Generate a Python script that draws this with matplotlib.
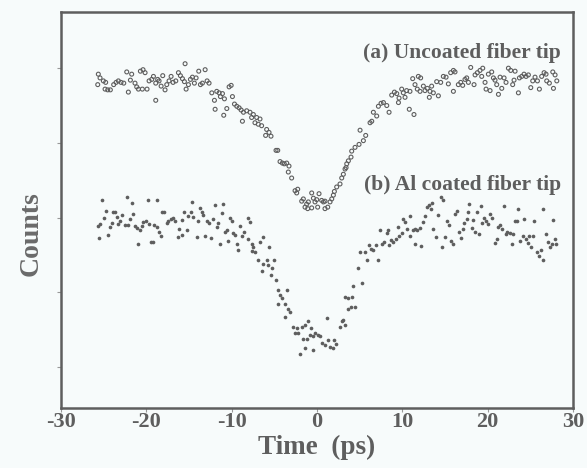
"""
Autocorrelation traces: uncoated vs Al coated fiber tip.
Values read off the scanned figure (Counts in arbitrary units).
"""
import matplotlib
matplotlib.use("Agg")
import matplotlib.pyplot as plt

# (a) uncoated fiber tip -- time (ps), counts (a.u.)
a_t = [-25.63, -25.43, -25.70, -25.04, -24.77, -24.84, -24.53, -24.22, -23.83, -23.55,
       -23.28, -22.97, -22.65, -22.30, -22.11, -21.72, -21.87, -21.33, -21.13, -20.93,
       -20.70, -20.39, -20.15, -20.47, -19.92, -19.68, -19.37, -19.17, -18.90, -18.67,
       -18.51, -18.90, -18.27, -18.08, -17.81, -17.61, -17.34, -17.10, -16.87, -16.55,
       -16.24, -16.01, -15.77, -15.54, -15.46, -15.34, -15.07, -14.83, -14.60, -14.37,
       -14.17, -13.86, -13.66, -13.43, -13.11, -12.88, -12.65, -12.33, -12.02, -11.75,
       -11.47, -11.32, -11.08, -10.85, -10.57, -10.30, -10.06, -9.91, -9.67, -11.94,
       -10.93, -9.40, -9.13, -8.89, -8.62, -8.74,
       -8.24, -7.85, -7.46, -7.07, -6.68, -7.66, -7.27, -6.88, -6.49, -5.90,
       -5.62, -6.02, -5.39, -4.80, -4.60, -4.33, -4.06, -3.83, -3.55, -3.28,
       -3.36, -2.97, -2.57, -2.26, -2.38, -1.79, -1.60, -1.21, -1.01, -0.62,
       -0.42, -0.23, -0.03, 0.24, 0.55, 0.75, 0.94, -1.40, -1.09, -0.62,
       0.08, 0.94, 1.26, 1.53, 1.73, 1.92, 2.04, 2.31, 2.70, 2.90,
       3.09, 3.29, 3.49, 3.68, 3.99, 3.41, 4.07, 4.46, 4.93, 5.05,
       5.44, 5.71, 6.22, 6.42, 6.61, 7.00, 7.20, 7.51, 7.79, 8.18,
       8.45, 8.76, 9.08, 9.35, 9.62, 9.55,
       9.93, 10.12, 10.51, 10.90, 10.32, 11.22, 11.49, 11.88, 12.15, 11.76,
       12.08, 12.47, 12.66, 12.94, 13.25, 13.44, 13.64, 13.17, 10.82, 11.37,
       14.03, 14.23, 14.50, 14.81, 15.13, 15.40, 15.67, 15.99, 16.18, 15.99,
       16.57, 16.85, 17.08, 17.35, 17.55, 17.75, 18.02, 18.41, 18.53, 18.80,
       19.11, 19.31, 19.43, 19.70, 19.82, 20.09, 20.29, 20.48, 20.68, 20.87,
       21.07, 21.27, 21.46, 21.66, 21.93, 22.16, 22.44, 22.71, 22.94, 23.10,
       23.22, 23.61, 23.73, 24.00, 24.27, 24.51, 24.78, 25.06, 25.29, 25.56,
       25.84, 26.07, 26.34, 26.62, 26.85, 26.93, 27.24, 27.64, 27.72, 27.91,
       28.11]
a_y = [4.92, 4.87, 4.78, 4.83, 4.81, 4.72, 4.71, 4.71, 4.78, 4.81,
       4.83, 4.81, 4.80, 4.95, 4.68, 4.92, 4.84, 4.80, 4.75, 4.72,
       4.96, 4.98, 4.94, 4.72, 4.72, 4.83, 4.85, 4.89, 4.80, 4.85,
       4.83, 4.57, 4.76, 4.90, 4.71, 4.78, 4.83, 4.89, 4.81, 4.83,
       4.94, 4.90, 4.86, 4.82, 5.06, 4.72, 4.78, 4.85, 4.88, 4.80,
       4.87, 4.96, 4.78, 4.80, 4.98, 4.83, 4.80, 4.67, 4.57, 4.69,
       4.67, 4.62, 4.66, 4.59, 4.46, 4.75, 4.77, 4.62, 4.52, 4.45,
       4.37, 4.49, 4.47, 4.44, 4.41, 4.29,
       4.43, 4.41, 4.38, 4.34, 4.32, 4.34, 4.27, 4.25, 4.23, 4.18,
       4.14, 4.10, 4.09, 3.90, 3.90, 3.75, 3.73, 3.72, 3.73, 3.69,
       3.61, 3.53, 3.36, 3.38, 3.33, 3.22, 3.25, 3.18, 3.21, 3.33,
       3.26, 3.21, 3.24, 3.32, 3.23, 3.21, 3.22, 3.14, 3.12, 3.13,
       3.14, 3.12, 3.14, 3.21, 3.25, 3.30, 3.35, 3.41, 3.45, 3.53,
       3.58, 3.65, 3.72, 3.76, 3.81, 3.67, 3.89, 3.94, 3.98, 4.17,
       4.03, 4.10, 4.27, 4.29, 4.41, 4.36, 4.49, 4.53, 4.54, 4.50,
       4.41, 4.64, 4.68, 4.66, 4.60, 4.54,
       4.72, 4.67, 4.70, 4.69, 4.61, 4.86, 4.78, 4.89, 4.87, 4.72,
       4.69, 4.76, 4.70, 4.73, 4.69, 4.76, 4.67, 4.61, 4.45, 4.38,
       4.82, 4.63, 4.81, 4.89, 4.88, 4.79, 4.94, 4.97, 4.95, 4.69,
       4.78, 4.81, 4.77, 4.85, 4.87, 4.81, 5.01, 4.78, 4.91, 4.94,
       4.97, 4.89, 5.00, 4.81, 4.72, 4.92, 4.70, 4.95, 4.87, 4.84,
       4.78, 4.65, 4.88, 4.73, 4.87, 4.81, 5.00, 4.97, 4.78, 4.84,
       4.96, 4.67, 4.87, 4.89, 4.92, 4.89, 4.91, 4.74, 4.83, 4.88,
       4.83, 4.72, 4.89, 4.94, 4.92, 4.83, 4.80, 4.95, 4.73, 4.91,
       4.83]

# (b) Al coated fiber tip
b_t = [-25.16, -25.70, -25.43, -25.55, -24.77, -24.92, -24.53, -24.26, -24.06, -23.87,
       -23.67, -23.48, -23.28, -23.09, -22.81, -22.50, -22.19, -22.30, -21.91, -21.72,
       -21.52, -21.33, -21.13, -20.93, -20.74, -20.54, -20.35, -20.07, -19.76, -19.68,
       -19.45, -19.17, -19.06, -18.78, -18.78, -18.51, -18.27, -18.12, -17.88, -17.61,
       -17.41, -17.10, -16.83, -16.63, -16.32, -16.12, -15.85, -15.77, -15.54, -15.26,
       -15.07, -14.76, -14.60, -14.48, -14.09, -13.90, -13.70, -13.51, -13.31, -13.11,
       -12.92, -12.65, -12.41, -12.14, -11.94, -11.75, -11.55, -11.36, -11.16, -10.96,
       -10.77, -10.57, -10.38, -10.18, -9.99, -9.79, -9.60, -9.40, -9.20, -9.01,
       -8.81, -8.50,
       -8.05, -7.85, -8.13, -7.66, -7.46, -7.58, -7.27, -6.68, -6.29, -5.62,
       -6.88, -6.29, -6.41, -5.90, -5.70, -5.31, -5.00, -5.39, -4.84, -4.53,
       -4.33, -4.14, -3.55, -3.75, -4.53, -3.36, -3.16, -3.75, -2.77, -2.38,
       -2.57, -2.18, -1.79, -1.40, -1.01, -0.70, -1.60, -1.21, -0.82, -0.42,
       -0.23, 0.08, 0.36, 0.55, 0.94, 1.14, 1.34, 1.53, 1.92, 2.04,
       2.20, -1.99, -1.40, -0.42, 2.70, 2.90, 3.09, 3.29, 3.29, 3.68,
       4.07, 3.60, 3.99, 4.46, 4.27, 5.25, 4.85, 5.05, 5.64, 5.83,
       6.11, 6.34, 6.61, 6.89, 7.12, 7.40, 7.67, 7.90, 8.18, 8.37,
       8.45, 8.69, 8.96, 9.23, 9.47, 9.62,
       10.12, 10.32, 9.93, 10.51, 10.90, 10.90, 11.22, 11.49, 11.76, 12.08,
       11.49, 12.15, 12.47, 12.66, 12.86, 13.17, 13.33, 13.44, 13.64, 13.95,
       14.23, 14.50, 14.73, 14.62, 15.01, 15.20, 15.52, 15.67, 15.91, 16.18,
       16.38, 16.69, 16.85, 17.08, 17.24, 17.55, 17.75, 17.86, 18.14, 18.33,
       18.53, 18.80, 18.96, 19.19, 19.31, 19.58, 19.82, 20.09, 20.29, 20.48,
       20.87, 21.07, 21.27, 21.46, 21.66, 21.93, 22.16, 22.32, 22.63, 22.83,
       23.02, 23.22, 23.41, 23.61, 23.80, 24.12, 24.27, 24.51, 24.78, 24.90,
       25.06, 25.29, 25.45, 25.76, 26.07, 26.23, 26.46, 26.54, 26.85, 27.13,
       27.32, 27.52, 27.64, 27.91, 28.03]
b_y = [3.23, 2.89, 2.92, 2.73, 3.09, 3.00, 2.77, 2.87, 2.93, 3.08,
       3.08, 3.01, 2.92, 2.96, 3.03, 2.90, 2.90, 3.27, 2.98, 3.20,
       3.05, 2.89, 2.86, 2.65, 2.83, 2.89, 2.94, 2.96, 3.23, 2.92,
       2.67, 2.67, 2.90, 3.23, 2.87, 2.81, 2.76, 3.07, 3.08, 2.93,
       2.95, 2.98, 3.00, 2.96, 2.74, 2.85, 2.77, 2.97, 3.08, 2.84,
       3.02, 3.08, 3.21, 3.01, 2.74, 2.96, 3.13, 3.08, 3.04, 2.76,
       2.96, 2.93, 2.73, 2.98, 3.17, 2.87, 2.93, 2.65, 3.06, 3.18,
       2.81, 2.84, 2.69, 2.99, 2.96, 2.80, 2.77, 2.64, 2.56, 2.89,
       2.75, 2.81,
       3.00, 2.94, 2.72, 2.65, 2.60, 2.55, 2.54, 2.67, 2.74, 2.61,
       2.43, 2.38, 2.29, 2.43, 2.36, 2.32, 2.43, 2.23, 2.16, 2.03,
       1.96, 1.92, 2.03, 1.85, 1.85, 1.78, 1.74, 1.67, 1.54, 1.52,
       1.46, 1.45, 1.54, 1.56, 1.61, 1.52, 1.37, 1.38, 1.43, 1.41,
       1.45, 1.43, 1.41, 1.32, 1.29, 1.65, 1.36, 1.27, 1.25, 1.36,
       1.31, 1.18, 1.25, 1.23, 1.54, 1.61, 1.63, 1.56, 1.94, 1.92,
       1.94, 1.78, 1.80, 1.80, 2.09, 2.12, 2.32, 2.54, 2.54, 2.43,
       2.63, 2.58, 2.56, 2.63, 2.43, 2.83, 2.64, 2.67, 2.80, 2.83,
       2.63, 2.70, 2.67, 2.72, 2.87, 2.75,
       2.98, 2.94, 2.80, 2.85, 3.02, 2.76, 2.83, 2.85, 2.83, 2.86,
       2.65, 2.62, 2.94, 3.02, 3.14, 3.17, 3.11, 3.20, 2.85, 2.74,
       3.03, 3.27, 3.24, 2.61, 2.74, 2.95, 2.90, 2.69, 2.65, 3.05,
       3.09, 2.81, 2.73, 2.85, 2.93, 2.98, 3.07, 3.18, 2.86, 2.97,
       2.81, 3.08, 2.78, 3.16, 2.93, 2.99, 2.96, 2.92, 3.05, 3.00,
       2.66, 2.72, 2.87, 2.90, 2.85, 3.15, 2.78, 2.81, 2.80, 2.65,
       2.78, 2.95, 2.96, 3.12, 2.69, 2.75, 2.98, 2.71, 2.66, 2.76,
       2.61, 2.75, 2.95, 2.54, 2.49, 2.56, 2.43, 3.12, 2.78, 2.67,
       2.61, 2.65, 2.97, 2.72, 2.64]

Y_TICKS = [1, 2, 3, 4, 5]
X_TICKS = [-30, -20, -10, 0, 10, 20, 30]

BG = "#f7fbfb"
GRAY = "#5e5e5e"
FONT = "Liberation Serif"

fig = plt.figure(figsize=(5.87, 4.68), dpi=100, facecolor=BG)
ax = fig.add_axes([0.104, 0.128, 0.872, 0.846], facecolor=BG)

# (a) hueco, (b) relleno
ax.scatter(a_t, a_y, s=8, facecolors="none", edgecolors=GRAY, linewidths=0.8)
ax.scatter(b_t, b_y, s=7, color=GRAY, linewidths=0)

ax.set_xlim(-30, 30)
ax.set_ylim(0.45, 5.75)
ax.set_xticks(X_TICKS)
ax.set_xticklabels([str(v) for v in X_TICKS], fontfamily=FONT,
                   fontweight="bold", fontsize=16, color=GRAY)
ax.set_yticks(Y_TICKS)
ax.set_yticklabels([])
ax.tick_params(axis="both", direction="out", length=3, width=0.8, color="#999999")
ax.tick_params(axis="x", pad=0)

for s in ax.spines.values():
    s.set_color(GRAY)
    s.set_linewidth(1.8)

ax.set_xlabel("Time  (ps)", fontfamily=FONT, fontweight="bold", fontsize=19.5,
              color=GRAY, labelpad=2)
ax.set_ylabel("Counts", fontfamily=FONT, fontweight="bold", fontsize=20,
              color="#6a6a6a")
ax.yaxis.set_label_coords(-0.035, 0.44)

ax.text(28.6, 5.2, "(a) Uncoated fiber tip", ha="right", va="center",
        fontfamily=FONT, fontweight="bold", fontsize=15.5, color=GRAY)
ax.text(28.6, 3.43, "(b) Al coated fiber tip", ha="right", va="center",
        fontfamily=FONT, fontweight="bold", fontsize=15.5, color=GRAY)

fig.savefig("out.png", dpi=100, facecolor=BG)
